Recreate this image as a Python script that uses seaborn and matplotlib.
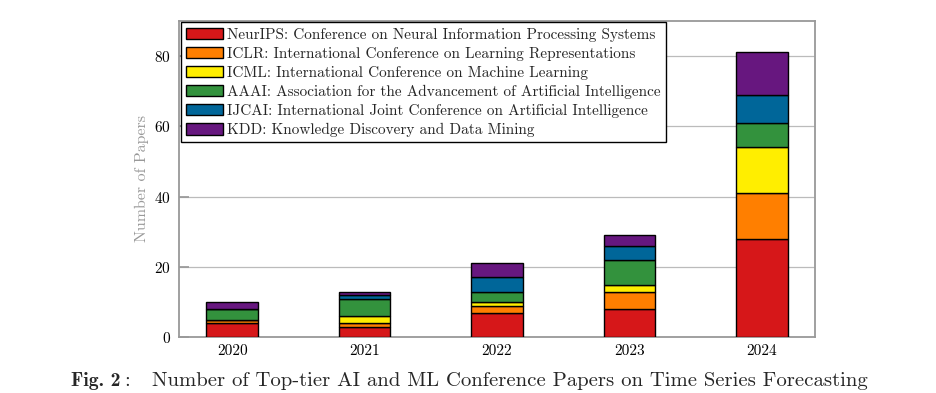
import numpy as np
import pandas as pd
import matplotlib
matplotlib.use("Agg")
import matplotlib.pyplot as plt
import seaborn as sns
from matplotlib.patches import Patch

# data
years = ["2020", "2021", "2022", "2023", "2024"]
venues = ["NeurIPS: Conference on Neural Information Processing Systems",
          "ICLR: International Conference on Learning Representations",
          "ICML: International Conference on Machine Learning",
          "AAAI: Association for the Advancement of Artificial Intelligence",
          "IJCAI: International Joint Conference on Artificial Intelligence",
          "KDD: Knowledge Discovery and Data Mining"]
neurips = [4, 3, 7, 8, 28]
iclr = [1, 1, 2, 5, 13]
icml = [0, 2, 1, 2, 13]
aaai = [3, 5, 3, 7, 7]
ijcai = [0, 1, 4, 4, 8]
kdd = [2, 1, 4, 3, 12]
colors = ["#D61719", "#FF7F00", "#FFEE00", "#33923D", "#006699", "#67177F"]

sns.set_theme(style="white")
plt.rcParams["font.family"] = ["cmr10", "DejaVu Serif"]
plt.rcParams["axes.formatter.use_mathtext"] = True

df = pd.DataFrame({"year": years, "NeurIPS": neurips, "ICLR": iclr,
                   "ICML": icml, "AAAI": aaai, "IJCAI": ijcai, "KDD": kdd})
series = ["NeurIPS", "ICLR", "ICML", "AAAI", "IJCAI", "KDD"]

fig = plt.figure(figsize=(9.37, 3.93), dpi=100)
ax = fig.add_axes([179.3 / 937, 1 - 337.3 / 393,
                   (814.7 - 179.3) / 937, (337.3 - 20.7) / 393])

# stacked bars, one layer per conference
bottom = np.zeros(len(years))
for s, c in zip(series, colors):
    sns.barplot(data=df, x="year", y=s, bottom=bottom, color=c,
                edgecolor="black", linewidth=1.0, width=0.39,
                saturation=1, ax=ax, zorder=3)
    bottom += df[s].values

ax.set_xlim(-0.4, 4.4)
ax.set_ylim(0, 90)
ax.set_yticks([0, 20, 40, 60, 80])
ax.grid(axis="y", color="#bbbbbb", linewidth=0.9, zorder=0)
ax.set_xlabel("")
ax.set_ylabel("Number of Papers", color="#999999", fontsize=11.5)
ax.tick_params(axis="y", direction="in", length=7, color="#999999",
               labelsize=11, labelcolor="black", pad=6, left=True)
ax.tick_params(axis="x", length=0, labelsize=11, labelcolor="black", pad=5)
for sp in ax.spines.values():
    sp.set_color("#999999")
    sp.set_linewidth(1.3)

handles = [Patch(facecolor=c, edgecolor="black", linewidth=1.0)
           for c in colors]
leg = ax.legend(handles, venues, loc="upper left",
                bbox_to_anchor=(0.0, 1.0), fontsize=11.0, frameon=True,
                fancybox=False, edgecolor="black", framealpha=1,
                handlelength=2.4, handleheight=0.8, handletextpad=0.3,
                labelspacing=0.32, borderpad=0.35, borderaxespad=0.1)
leg.get_frame().set_linewidth(1.0)
leg.set_zorder(5)

# caption
ycap = 1 - 381 / 393
fig.text(71 / 937, ycap, "Fig. 2", fontsize=14.2,
         family=["cmb10", "DejaVu Serif"], va="center", ha="left")
fig.text(124 / 937, ycap, ":", fontsize=14.9, va="center", ha="left")
fig.text(152 / 937, ycap,
         "Number of Top-tier AI and ML Conference Papers on Time Series Forecasting",
         fontsize=14.95, va="center", ha="left")

fig.savefig("out.png", dpi=100)
